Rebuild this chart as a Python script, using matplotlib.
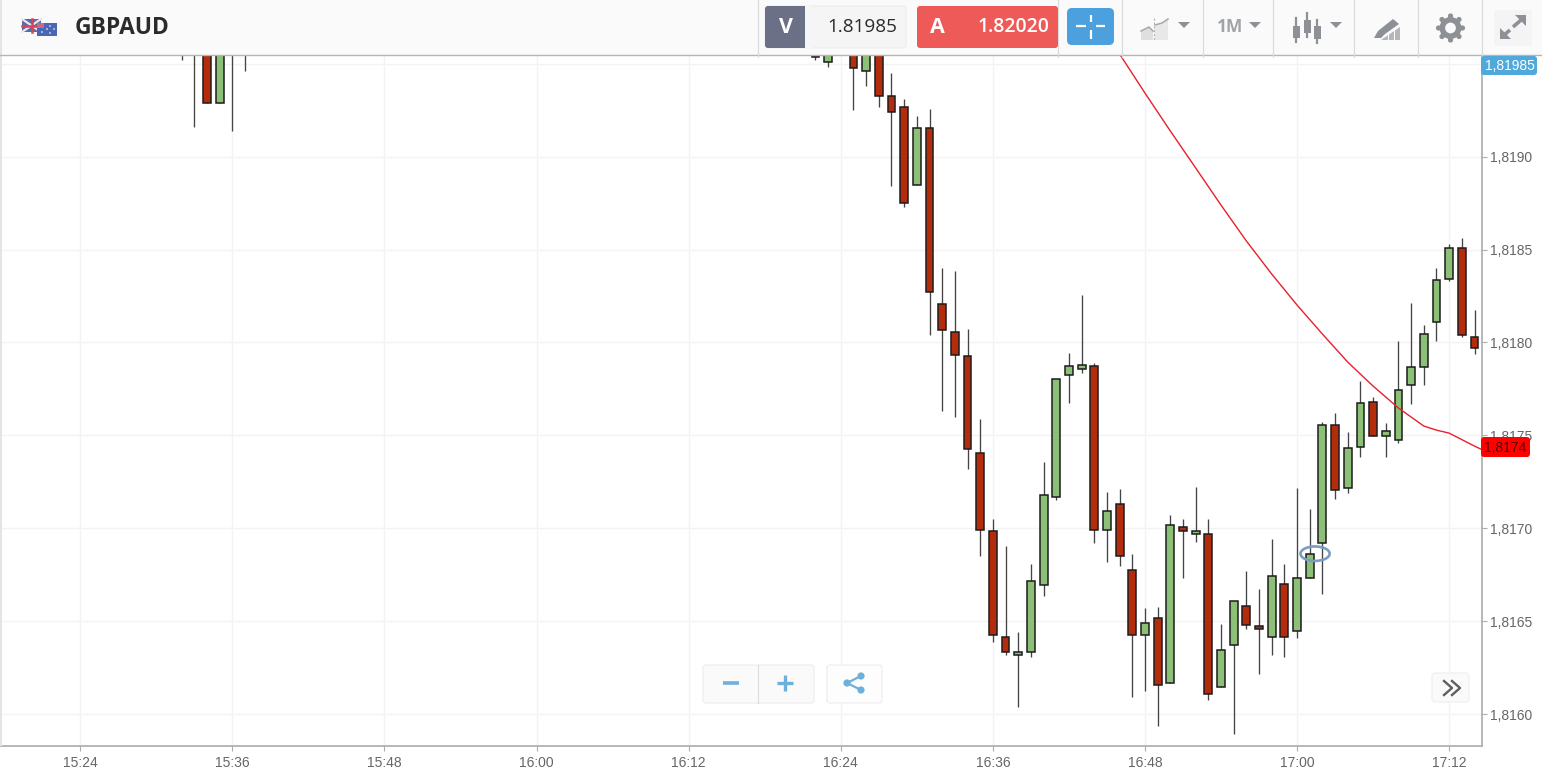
import matplotlib
matplotlib.use("Agg")
import matplotlib.pyplot as plt
from matplotlib.patches import Ellipse, FancyBboxPatch, Polygon, Rectangle, Circle

W, H = 1542, 781

symbol = "GBPAUD"
bid_text = "1.81985"
ask_text = "1.82020"
bid_tag = "1,81985"
ma_tag = "1,8174"

times = ["15:32", "15:33", "15:34", "15:35", "15:36", "15:37", "16:22", "16:23",
         "16:25", "16:26", "16:27", "16:28", "16:29", "16:30", "16:31", "16:32", "16:33", "16:34",
         "16:35", "16:36", "16:37", "16:38", "16:39", "16:40", "16:41", "16:42", "16:43", "16:44",
         "16:45", "16:46", "16:47", "16:48", "16:49", "16:50", "16:51", "16:52", "16:53", "16:54",
         "16:55", "16:56", "16:57", "16:58", "16:59", "17:00", "17:01", "17:02", "17:03", "17:04",
         "17:05", "17:06", "17:07", "17:08", "17:09", "17:10", "17:11", "17:12", "17:13", "17:14"]
opens = [1.81960, 1.81975, 1.81965, 1.819288, 1.81970, 1.81985, 1.81960, 1.819511,
         1.81968, 1.819461, 1.81962, 1.819326, 1.819267, 1.818847, 1.819154, 1.818207, 1.818056, 1.817927,
         1.817405, 1.816985, 1.816414, 1.816318, 1.816334, 1.816694, 1.817168, 1.817824, 1.817857, 1.817873,
         1.816990, 1.817130, 1.816775, 1.816425, 1.816517, 1.816167, 1.817006, 1.816969, 1.816969, 1.816145,
         1.816371, 1.816581, 1.816474, 1.816414, 1.816700, 1.816447, 1.816732, 1.816920, 1.817555, 1.817216,
         1.817437, 1.817679, 1.817496, 1.817475, 1.817771, 1.817868, 1.818110, 1.818341, 1.818508, 1.818029]
highs = [1.81975, 1.81985, 1.81975, 1.81980, 1.81990, 1.81990, 1.81965, 1.81970,
         1.81975, 1.81968, 1.81970, 1.819450, 1.819310, 1.819218, 1.819256, 1.818400, 1.818384, 1.818072,
         1.817588, 1.817049, 1.816904, 1.816441, 1.816807, 1.817356, 1.817803, 1.817943, 1.818255, 1.817889,
         1.817195, 1.817211, 1.816861, 1.816570, 1.816576, 1.817071, 1.817049, 1.817222, 1.817049, 1.816484,
         1.816608, 1.816770, 1.816673, 1.816942, 1.816807, 1.817216, 1.817103, 1.817572, 1.817620, 1.817518,
         1.817792, 1.817706, 1.817566, 1.818007, 1.818212, 1.818094, 1.818400, 1.818530, 1.818562, 1.818174]
lows = [1.81952, 1.819159, 1.819288, 1.819288, 1.819138, 1.819461, 1.81952, 1.819482,
        1.819251, 1.81938, 1.819267, 1.818842, 1.818729, 1.818847, 1.81804, 1.817631, 1.817598, 1.817319,
        1.81685, 1.816388, 1.816318, 1.816038, 1.816307, 1.816635, 1.817152, 1.817674, 1.817835, 1.81692,
        1.816818, 1.816797, 1.816091, 1.816124, 1.815935, 1.816167, 1.816732, 1.816926, 1.816075, 1.816145,
        1.815892, 1.816457, 1.816215, 1.816318, 1.816307, 1.816409, 1.816732, 1.816646, 1.817157, 1.817189,
        1.817383, 1.817496, 1.817383, 1.817459, 1.817668, 1.817771, 1.818007, 1.81833, 1.818029, 1.817938]
closes = [1.81966, 1.81962, 1.819288, 1.81970, 1.81985, 1.81975, 1.819536, 1.81962,
          1.819479, 1.81962, 1.819326, 1.81924, 1.81875, 1.819154, 1.818271, 1.818067, 1.817932, 1.817426,
          1.81699, 1.816425, 1.816334, 1.816334, 1.816716, 1.817179, 1.817803, 1.817873, 1.817878, 1.81699,
          1.817093, 1.81685, 1.816425, 1.81649, 1.816156, 1.817017, 1.816985, 1.816985, 1.816108, 1.816344,
          1.816608, 1.816479, 1.816457, 1.816743, 1.816414, 1.816732, 1.816861, 1.817555, 1.817206, 1.817432,
          1.817674, 1.817496, 1.817523, 1.817744, 1.817868, 1.818045, 1.818336, 1.818508, 1.81804, 1.81797]

ma_times = ["16:46", "16:48", "16:50", "16:52", "16:54", "16:56", "16:58", "17:00", "17:02",
            "17:04", "17:06", "17:08", "17:10", "17:11", "17:12", "17:14", "17:15"]
ma_values = [1.819552, 1.819342, 1.819138, 1.818939, 1.818739, 1.818546, 1.818368, 1.818201, 1.818045,
             1.817894, 1.817765, 1.817647, 1.81755, 1.817528, 1.817512, 1.817442, 1.81741]

# the 1,8195 label sits behind the bid tag in the original, so only its gridline shows
price_ticks = [1.8160, 1.8165, 1.8170, 1.8175, 1.8180, 1.8185, 1.8190, 1.8195]
price_labels = ["1,8160", "1,8165", "1,8170", "1,8175", "1,8180", "1,8185", "1,8190", ""]
time_ticks = ["15:24", "15:36", "15:48", "16:00", "16:12", "16:24", "16:36", "16:48", "17:00", "17:12"]

marker_time = 1021.42
marker_price = 1.816863


def to_min(t):
    hh, mm = t.split(":")
    return int(hh) * 60 + int(mm)


UP = "#8cc076"
DOWN = "#b32c0c"
EDGE = "#1c1c1c"
AXIS = "#ababab"
ICON = "#8d9095"

fig = plt.figure(figsize=(W / 100, H / 100), dpi=100, facecolor="white")
ax = fig.add_axes([0, (H - 746) / H, 1482 / W, (746 - 55) / H])
ax.set_xlim(917.665, 1034.59)
ax.set_ylim(1.815828, 1.819547)

x = [to_min(t) for t in times]
ax.vlines(x, lows, highs, color="#444444", lw=0.95, zorder=2)
for xi, o, c in zip(x, opens, closes):
    ax.bar(xi, abs(c - o), bottom=min(o, c), width=0.62, color=UP if c >= o else DOWN,
           edgecolor=EDGE, linewidth=1.1, zorder=3)

ax.plot([to_min(t) for t in ma_times], ma_values, color="#e8202a", lw=1.0, zorder=4)
ax.add_patch(Ellipse((marker_time, marker_price), 2.3, 0.000078, fill=False, edgecolor="#7b9dc1", lw=1.9, zorder=5))

ax.set_yticks(price_ticks)
ax.set_yticklabels(price_labels)
ax.set_xticks([to_min(t) for t in time_ticks])
ax.set_xticklabels(time_ticks)
ax.yaxis.tick_right()
ax.grid(True, color="#f3f3f3", lw=1.0)
ax.set_axisbelow(True)
for s in ["top", "left"]:
    ax.spines[s].set_visible(False)
for s in ["bottom", "right"]:
    ax.spines[s].set_color(AXIS)
    ax.spines[s].set_linewidth(1.2)
ax.tick_params(axis="both", length=3.5, width=0.8, color=AXIS, labelcolor="#666666", labelsize=10, pad=2.5)
ax.tick_params(axis="x", pad=4)
for lab in ax.get_xticklabels() + ax.get_yticklabels():
    lab.set_family("Liberation Sans")

# header, buttons and tags, drawn in pixel coordinates
ui = fig.add_axes([0, 0, 1, 1], facecolor="none")
ui.set_xlim(0, W)
ui.set_ylim(H, 0)
ui.axis("off")


def box(x0, y0, x1, y1, color, edge="none", radius=3, z=2, lw=0.8):
    ui.add_patch(FancyBboxPatch((x0 + radius, y0 + radius), x1 - x0 - 2 * radius, y1 - y0 - 2 * radius,
                                boxstyle=f"round,pad={radius}", fc=color, ec=edge, lw=lw, zorder=z))


ui.add_patch(Rectangle((0, 0), W, 55, fc="#fafafa", ec="none", zorder=1))
ui.plot([0, W], [55, 55], color="#b5b5b5", lw=1.0, zorder=2)
ui.add_patch(Rectangle((0, 0), 2, 746, fc="#e4e4e4", ec="none", zorder=1))
for sx in [758, 1058, 1122, 1203, 1273, 1354, 1418, 1482]:
    ui.plot([sx, sx], [0, 57], color="#dcdcdc", lw=0.9, zorder=2)

# flags
ui.add_patch(Rectangle((22, 19), 19, 13, fc="#5a6ba8", ec="none", zorder=3))
ui.plot([22, 41], [19, 32], color="#f0e6ea", lw=1.6, zorder=4)
ui.plot([22, 41], [32, 19], color="#f0e6ea", lw=1.6, zorder=4)
ui.plot([31.5, 31.5], [19, 32], color="#d4455a", lw=1.8, zorder=4)
ui.plot([22, 41], [25.5, 25.5], color="#d4455a", lw=1.8, zorder=4)
ui.add_patch(Rectangle((37, 23), 20, 13, fc="#4a66b4", ec="none", zorder=5))
ui.add_patch(Rectangle((37, 23), 7, 5, fc="#c86a80", ec="none", zorder=6))
for sx, sy in [(50, 26), (54, 29), (50, 33), (47, 29), (42, 32)]:
    ui.add_patch(Circle((sx, sy), 0.8, fc="white", ec="none", zorder=6))
ui.text(75, 27.5, symbol, family="Open Sans", weight="bold", fontsize=16.4, color="#2b2b2b", va="center", zorder=3)

# bid / ask
box(765, 6, 906, 48, "#f5f5f5", edge="#ececec", z=3)
box(765, 6, 812, 48, "#6c7086", z=4)
ui.add_patch(Rectangle((805, 5.5), 8, 43, fc="#f5f5f5", ec="none", zorder=5))
ui.text(786, 27.5, "V", family="Open Sans", weight="bold", fontsize=15.5, color="white", ha="center", va="center", zorder=6)
ui.text(897, 26.5, bid_text, family="Open Sans", fontsize=13.6, color="#2b2b2b", ha="right", va="center", zorder=6)
box(917, 6, 1058, 48, "#ee5a57", z=3)
ui.text(937.5, 27.5, "A", family="Open Sans", weight="bold", fontsize=15.5, color="white", ha="center", va="center", zorder=6)
ui.text(1049, 26.5, ask_text, family="Open Sans", weight="semibold", fontsize=13.9, color="white", ha="right", va="center", zorder=6)

# crosshair
box(1067, 8, 1114, 45, "#4ca0de", z=3, radius=5)
for seg in [([1076, 1086], [26, 26]), ([1096, 1105], [26, 26]), ([1090.5, 1090.5], [15, 22]), ([1090.5, 1090.5], [30, 39])]:
    ui.plot(seg[0], seg[1], color="white", lw=1.6, zorder=4, solid_capstyle="butt")

# chart type icons
ui.add_patch(Polygon([(1141, 40), (1141, 31), (1149, 27), (1153, 31), (1153, 40)], fc="#dfdfdf", ec="none", zorder=3))
ui.add_patch(Polygon([(1155, 40), (1155, 25), (1162, 23), (1168, 19), (1168, 40)], fc="#e8e8e8", ec="none", zorder=3))
ui.plot([1141, 1149, 1153], [31, 27, 31], color="#a8a8a8", lw=1.1, zorder=4)
ui.plot([1155, 1162, 1168], [25, 23, 19], color="#a8a8a8", lw=1.1, zorder=4)
ui.plot([1153.5, 1153.5], [18, 41], color="#b5b5b5", lw=0.8, ls=(0, (2, 1.5)), zorder=4)
for cx in [1184, 1255, 1336]:
    ui.add_patch(Polygon([(cx - 6, 22), (cx + 6, 22), (cx, 28)], fc=ICON, ec="none", zorder=3))
ui.text(1230, 27.5, "1M", family="Open Sans", weight="bold", fontsize=12.5, color="#a0a3a7", ha="center", va="center", zorder=3)
for cx, y0, y1, top, bot in [(1296, 18, 42, 26, 38), (1307, 13, 37, 20, 33), (1317, 20, 43, 26, 39)]:
    ui.plot([cx, cx], [y0, y1], color=ICON, lw=1.6, zorder=3)
    ui.add_patch(Rectangle((cx - 3.5, top), 7, bot - top, fc=ICON, ec="none", zorder=4))

# drawing tools icon
ui.add_patch(Polygon([(1374, 38), (1378, 31), (1393, 19), (1399, 24), (1385, 34), (1381, 38)], fc=ICON, ec="none", zorder=4))
ui.add_patch(Polygon([(1381, 40), (1400, 27), (1400, 40)], fc="#b4b6b9", ec="none", zorder=3))
ui.plot([1388, 1388], [34, 40], color="#fafafa", lw=0.8, zorder=4)
ui.plot([1394, 1394], [30, 40], color="#fafafa", lw=0.8, zorder=4)

# settings
ui.add_patch(Circle((1450.5, 28), 8.2, fc="none", ec=ICON, lw=4.0, zorder=3))
for dx, dy in [(0, 12), (0, -12), (12, 0), (-12, 0), (8.5, 8.5), (-8.5, 8.5), (8.5, -8.5), (-8.5, -8.5)]:
    ui.add_patch(Circle((1450.5 + dx, 28 + dy), 2.6, fc=ICON, ec="none", zorder=3))
ui.add_patch(Circle((1450.5, 28), 4.2, fc="#fafafa", ec="none", zorder=4))

# fullscreen
box(1494, 10, 1532, 46, "#f4f4f4", z=2)
ui.plot([1513, 1521], [27, 20], color=ICON, lw=2.6, zorder=3, solid_capstyle="butt")
ui.plot([1510, 1504], [30, 35], color=ICON, lw=2.6, zorder=3, solid_capstyle="butt")
ui.add_patch(Polygon([(1500, 39), (1500, 28), (1511, 39)], fc=ICON, ec="none", zorder=3))
ui.add_patch(Polygon([(1526, 15), (1526, 26), (1515, 15)], fc=ICON, ec="none", zorder=3))

# price tags
box(1481, 56, 1537, 75, "#4fa9da", z=6)
ui.text(1510, 65.5, bid_tag, family="Liberation Sans", fontsize=10, color="white", ha="center", va="center", zorder=7)
box(1481, 437, 1530, 457, "#ff0000", z=6)
ui.text(1505.5, 447.5, ma_tag, family="Liberation Sans", fontsize=10, color="#5a0000", ha="center", va="center", zorder=7)

# zoom and share buttons
box(703, 665, 814, 703, "#fafafa", edge="#ececec", z=3)
ui.plot([757.5, 757.5], [665, 703], color="#dcdcdc", lw=0.8, zorder=4)
ui.plot([723, 739], [683, 683], color="#6db1da", lw=2.6, zorder=4, solid_capstyle="butt")
ui.plot([777, 793], [683, 683], color="#6db1da", lw=2.4, zorder=4, solid_capstyle="butt")
ui.plot([785, 785], [675, 691], color="#6db1da", lw=2.4, zorder=4, solid_capstyle="butt")
box(827, 665, 882, 703, "#fdfdfd", edge="#ececec", z=3)
ui.plot([861, 847, 861], [676, 683, 690], color="#6db1da", lw=1.6, zorder=4)
for cx, cy in [(861, 676), (847, 683), (861, 690)]:
    ui.add_patch(Circle((cx, cy), 3.6, fc="#6db1da", ec="none", zorder=5))
box(1432, 673, 1469, 702, "#fafafa", edge="#eeeeee", z=3)
for ox in [1444, 1452]:
    ui.plot([ox, ox + 8, ox], [681, 688, 695], color="#5f5f5f", lw=1.7, zorder=4)

fig.savefig("out.png", dpi=100)
